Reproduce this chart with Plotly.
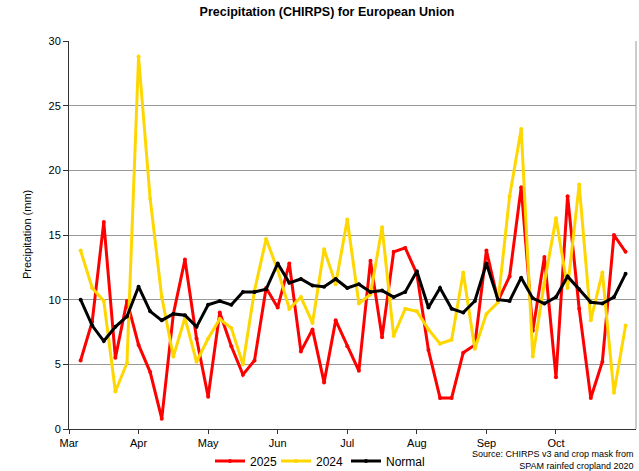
import plotly.graph_objects as go

months = ["Mar", "Apr", "May", "Jun", "Jul", "Aug", "Sep", "Oct"]
pentads = list(range(1, 49))

y2025 = [5.3, 8.3, 16.0, 5.5, 9.9, 6.5, 4.4, 0.8, 8.9, 13.1, 7.0, 2.5,
         9.0, 6.4, 4.2, 5.3, 10.9, 9.4, 12.8, 6.0, 7.7, 3.6, 8.4, 6.4,
         4.5, 13.0, 7.1, 13.7, 14.0, 12.0, 6.1, 2.4, 2.4, 5.9, 6.5, 13.8,
         9.9, 11.8, 18.7, 7.6, 13.3, 4.0, 18.0, 9.3, 2.4, 5.2, 15.0, 13.7]
y2024 = [13.8, 10.9, 9.9, 2.9, 5.1, 28.8, 17.8, 10.2, 5.6, 8.6, 5.2, 7.0,
         8.5, 7.8, 5.0, 10.7, 14.7, 12.3, 9.3, 10.2, 8.2, 13.9, 11.2, 16.2,
         9.7, 10.4, 15.6, 7.2, 9.3, 9.1, 7.7, 6.6, 6.9, 12.1, 6.2, 8.9,
         9.8, 18.0, 23.2, 5.6, 11.3, 16.3, 10.9, 18.9, 8.4, 12.1, 2.8, 8.0]
normal = [10.0, 8.0, 6.8, 7.9, 8.7, 11.0, 9.1, 8.4, 8.9, 8.8, 7.9, 9.6,
          9.9, 9.6, 10.6, 10.6, 10.8, 12.8, 11.3, 11.6, 11.1, 11.0, 11.6, 10.9,
          11.2, 10.6, 10.7, 10.2, 10.6, 12.2, 9.4, 10.9, 9.3, 9.0, 9.9, 12.8,
          10.0, 9.9, 11.7, 10.1, 9.7, 10.2, 11.8, 10.8, 9.8, 9.7, 10.2, 12.0]
month_ticks = [0, 6, 12, 18, 24, 30, 36, 42]

FONT = "Arial, Liberation Sans, sans-serif"

series = [("2025", y2025, "#FF0000", "legend", 210),
          ("2024", y2024, "#FFD700", "legend2", 276),
          ("Normal", normal, "#000000", "legend3", 346)]

fig = go.Figure()
legends = {}
for name, vals, col, leg, lx in series:
    fig.add_trace(go.Scatter(
        x=pentads, y=vals, name=name, mode="lines+markers",
        line=dict(color=col, width=3),
        marker=dict(color=col, size=4),
        legend=leg,
    ))
    legends[leg] = dict(orientation="h", xref="container", x=lx / 639,
                        xanchor="left", yref="container", y=1 - 461 / 471,
                        yanchor="middle", font=dict(size=12, family=FONT),
                        bgcolor="rgba(0,0,0,0)")

fig.update_layout(
    width=639, height=471,
    margin=dict(l=69, r=3, t=41, b=42, autoexpand=False),
    paper_bgcolor="white", plot_bgcolor="white",
    font=dict(family=FONT, size=11, color="black"),
    title=dict(text="<b>Precipitation (CHIRPS) for European Union</b>",
               xref="container", x=327 / 639, xanchor="center",
               y=1 - 12 / 471, yanchor="middle",
               font=dict(size=12.5, family=FONT, color="black")),
    showlegend=True,
    **legends,
    xaxis=dict(range=[0, 48.9], tickmode="array", tickvals=month_ticks,
               ticktext=months, showgrid=False, zeroline=False,
               showline=True, linecolor="#333333", linewidth=1,
               ticks="outside", ticklen=4, tickcolor="#333333",
               tickfont=dict(size=11), automargin=False),
    yaxis=dict(range=[0, 30], dtick=5, showgrid=True, gridcolor="#999999",
               gridwidth=1, zeroline=False, showline=True,
               linecolor="#333333", linewidth=1,
               ticks="outside", ticklen=5, tickcolor="#333333",
               tickfont=dict(size=11), automargin=False),
)

# right border
fig.add_shape(type="line", xref="paper", yref="paper", x0=1, x1=1, y0=0, y1=1,
              line=dict(color="#999999", width=1))

# y-axis title
fig.add_annotation(
    text="Precipitation (mm)", textangle=-90,
    xref="paper", yref="paper", x=(27 - 69) / 567, y=0.5,
    xanchor="center", yanchor="middle", showarrow=False,
    font=dict(size=11, family=FONT, color="black"))

fig.add_annotation(
    text="Source: CHIRPS v3 and crop mask from<br>SPAM rainfed cropland 2020",
    xref="paper", yref="paper", x=1, y=-(447 - 429) / 388,
    xanchor="right", yanchor="top",
    align="right", showarrow=False, font=dict(size=9, family=FONT, color="black"))

fig.write_html("out.html", config={"displayModeBar": False},
               post_script="document.body.style.margin='0';")
